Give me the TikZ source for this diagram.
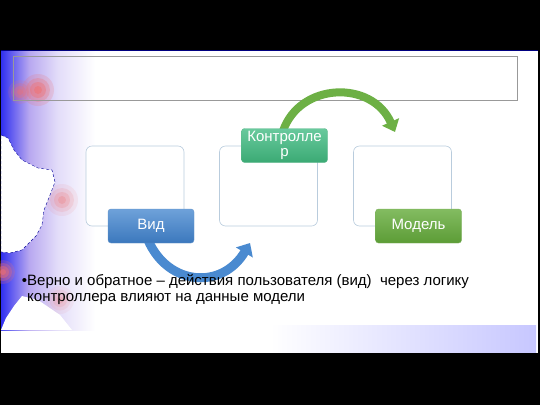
\documentclass[tikz,border=0pt]{standalone}
\usepackage{fontspec}
\setmainfont{Liberation Sans}
\usepackage{xcolor}
\usepackage{tikz}
\usetikzlibrary{arrows.meta,shadings}
\definecolor{vidblue}{HTML}{4A8AD0}
\definecolor{vidbluedark}{HTML}{3B78BD}
\definecolor{kontrgreen}{HTML}{4EC08C}
\definecolor{kontrgreendark}{HTML}{3BAA74}
\definecolor{modgreen}{HTML}{6DB045}
\definecolor{modgreendark}{HTML}{5C9C36}
\definecolor{frameblue}{HTML}{B9CCDD}
\definecolor{mapblue}{HTML}{3030F0}
\definecolor{mappurple}{HTML}{B8A8F0}
\definecolor{mapred}{HTML}{F07070}
\pgfdeclarehorizontalshading{mapshade}{100bp}{color(0bp)=(mapblue);color(25bp)=(mapblue);color(40bp)=(mappurple);color(55bp)=(mappurple!40);color(75bp)=(white);color(100bp)=(white)}
\tikzset{
  outerbox/.style={draw=frameblue,line width=0.6pt,rounded corners=6pt,minimum width=98pt,minimum height=80pt,fill=white},
  labelbox/.style={rounded corners=3pt,minimum width=86pt,minimum height=34pt,text=white,align=center,font=\fontsize{15}{15}\selectfont,inner sep=1pt},
  bigarrow/.style={line width=8pt,-{Triangle[width=18pt,length=11pt]}}
}
\newcommand\redspot[3]{\foreach \rr/\oo in {1/0.12,0.75/0.18,0.5/0.25,0.25/0.3}{\fill[mapred,opacity=\oo*#3] (#1) circle ({\rr*#2});}}
\begin{document}
\begin{tikzpicture}[x=1pt,y=-1pt]
  \useasboundingbox (0,0) rectangle (540,405);
  \fill[black] (0,0) rectangle (540,405);
  % slide
  \fill[white] (1,50) rectangle (538,353);
  \draw[blue!50!black,line width=0.8pt] (1,50.5) -- (538,50.5);
  \shade[left color=white,right color=blue!22] (270,325) rectangle (536,352);
  % map on the left
  \shade[shading=mapshade] (1,51) rectangle (95,330);
  \redspot{38,90}{16}{1.6}
  \redspot{20,92}{12}{1.2}
  \redspot{3,272}{12}{1.8}
  \redspot{62,200}{16}{0.8}
  \redspot{60,300}{14}{0.6}
  \fill[white,draw=blue!60!black,densely dashed,line width=0.4pt]
    (1,135) -- (8,138) -- (14,150) -- (22,160) -- (38,168) -- (52,170) -- (55,182)
    -- (50,195) -- (44,210) -- (42,225) -- (36,236) -- (22,250) -- (10,253) -- (1,252) -- cycle;
  \fill[white] (1,330) -- (6,318) -- (14,306) -- (22,296) -- (38,300) -- (60,315) -- (72,330) -- cycle;
  % title frame
  \draw[gray!80,line width=0.6pt] (13,56) rectangle (517,100);
  % outer boxes
  \node[outerbox] (vidbox) at (135,186) {};
  \node[outerbox] (kontrbox) at (268.5,186) {};
  \node[outerbox] (modbox) at (402.5,186) {};
  % arrows
  \coordinate (kontrstart) at (283,131);
  \coordinate (modend) at (395,132);
  \coordinate (vidstart) at (148,240);
  \coordinate (kontrend) at (250,243);
  \draw[bigarrow,draw=modgreen,-{Triangle[width=18pt,length=11pt,fill=modgreen]}] (kontrstart) .. controls (300,82) and (372,80) .. (modend);
  \draw[bigarrow,draw=vidblue,line width=9pt,-{Triangle[width=19pt,length=11pt,fill=vidblue]}] (vidstart) .. controls (168,286) and (222,290) .. (kontrend);
  % labels
  \node[labelbox,top color=vidblue!80,bottom color=vidbluedark,draw=vidbluedark!80] (vid) at (151,226) {Вид};
  \node[labelbox,top color=kontrgreen!85,bottom color=kontrgreendark,draw=kontrgreendark!80] (kontr) at (284.5,145.5) {Контролле\\р};
  \node[labelbox,top color=modgreen!85,bottom color=modgreendark,draw=modgreendark!80] (mod) at (418.5,226) {Модель};
  % text
  \node[anchor=north west,inner sep=0pt,align=left,font=\fontsize{15}{16.5}\selectfont] (text) at (27,274)
    {\llap{•}Верно и обратное – действия пользователя (вид)\ \ через логику\\контроллера влияют на данные модели};
\end{tikzpicture}
\end{document}
